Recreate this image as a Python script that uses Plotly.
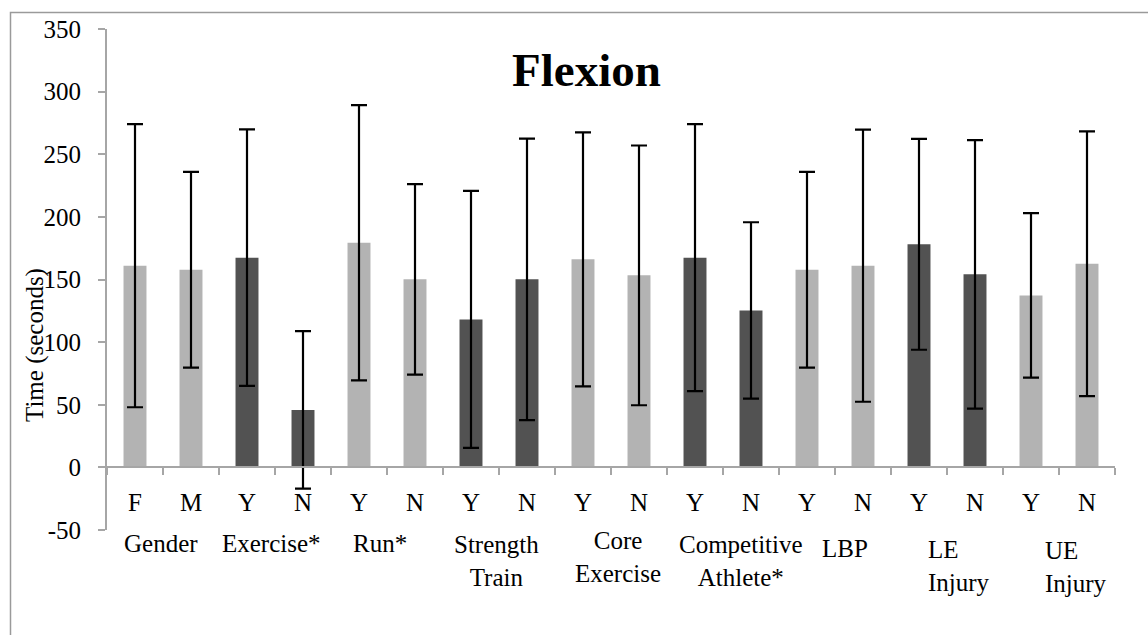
import plotly.graph_objects as go

# ---- data ----
groups = ["Gender", "Gender", "Exercise*", "Exercise*", "Run*", "Run*",
          "Strength Train", "Strength Train", "Core Exercise", "Core Exercise",
          "Competitive Athlete*", "Competitive Athlete*", "LBP", "LBP",
          "LE Injury", "LE Injury", "UE Injury", "UE Injury"]
levels = ["F", "M", "Y", "N", "Y", "N", "Y", "N", "Y", "N",
          "Y", "N", "Y", "N", "Y", "N", "Y", "N"]
means = [161.0, 157.8, 167.4, 45.9, 179.4, 150.1, 118.1, 150.1, 166.1, 153.3,
         167.4, 125.3, 157.8, 161.0, 178.1, 154.1, 137.3, 162.6]
sds = [113.0, 78.2, 102.4, 62.9, 109.9, 76.0, 102.6, 112.3, 101.4, 103.7,
       106.6, 70.4, 78.2, 108.6, 84.2, 107.2, 65.7, 105.7]
shade = ["light", "light", "dark", "dark", "light", "light", "dark", "dark",
         "light", "light", "dark", "dark", "light", "light", "dark", "dark",
         "light", "light"]
ytick_vals = [-50, 0, 50, 100, 150, 200, 250, 300, 350]
ytick_text = ["-50", "0", "50", "100", "150", "200", "250", "300", "350"]

# group labels: (text lines, index position, anchor, pixel y centre)
group_labels = [
    ("Gender", 0.47, "center", 543),
    ("Exercise*", 2.44, "center", 543),
    ("Run*", 4.38, "center", 543),
    ("Strength<br>Train", 6.46, "center", 561),
    ("Core<br>Exercise", 8.63, "center", 557),
    ("Competitive<br>Athlete*", 10.83, "center", 561),
    ("LBP", 12.68, "center", 548),
    ("LE<br>Injury", 14.13, "left", 566),
    ("UE<br>Injury", 16.22, "left", 567),
]

COLORS = {"light": "#b3b3b3", "dark": "#525252"}
FONT = "Liberation Serif, Times New Roman, serif"
AXIS_GRAY = "#a6a6a6"

W, H = 1148, 635
L, R, T, B = 107, 33, 29, 105
plot_h = H - T - B
plot_w = W - L - R


def py_to_paper(py):
    return (H - B - py) / plot_h


def px_to_paper(px):
    return (px - L) / plot_w


cats = [f"{g}|{lv}|{i}" for i, (g, lv) in enumerate(zip(groups, levels))]

fig = go.Figure()
fig.add_trace(go.Bar(
    x=cats,
    y=means,
    marker=dict(color=[COLORS[s] for s in shade], line=dict(width=0)),
    error_y=dict(type="data", array=sds, visible=True, color="black",
                 thickness=2.2, width=8),
    showlegend=False,
))

annotations = []
for text, idx, anchor, py in group_labels:
    annotations.append(dict(
        text=text, x=idx, xref="x", y=py_to_paper(py), yref="paper",
        xanchor=anchor, yanchor="middle", showarrow=False, align=anchor,
        font=dict(family=FONT, size=25, color="black"),
    ))
annotations.append(dict(
    text="<b>Flexion</b>", x=px_to_paper(586), xref="paper",
    y=py_to_paper(70), yref="paper", xanchor="center", yanchor="middle",
    showarrow=False, font=dict(family=FONT, size=47, color="black"),
))
annotations.append(dict(
    text="Time (seconds)", x=px_to_paper(35), xref="paper",
    y=py_to_paper(345), yref="paper", xanchor="center", yanchor="middle",
    textangle=-90, showarrow=False,
    font=dict(family=FONT, size=25, color="black"),
))

fig.update_layout(
    width=W, height=H,
    margin=dict(l=L, r=R, t=T, b=B, pad=0),
    paper_bgcolor="white", plot_bgcolor="white",
    bargap=0.59,
    font=dict(family=FONT, size=25, color="black"),
    xaxis=dict(
        type="category", tickvals=cats, ticktext=levels,
        tickson="boundaries", ticks="outside", ticklen=7, tickwidth=2,
        tickcolor=AXIS_GRAY, showline=True, linecolor=AXIS_GRAY, linewidth=2,
        showgrid=False, anchor="free", position=0.125,
        ticklabelstandoff=13,
        tickfont=dict(family=FONT, size=25, color="black"),
    ),
    yaxis=dict(
        range=[-50, 350], tickvals=ytick_vals, ticktext=ytick_text,
        ticks="outside", ticklen=7, tickwidth=2, tickcolor=AXIS_GRAY,
        showline=True, linecolor=AXIS_GRAY, linewidth=2, showgrid=False,
        zeroline=False, ticklabelstandoff=12,
        tickfont=dict(family=FONT, size=25, color="black"),
    ),
    annotations=annotations,
    shapes=[dict(
        type="rect", xref="paper", yref="paper",
        x0=px_to_paper(10.5), x1=px_to_paper(1160),
        y0=py_to_paper(650), y1=py_to_paper(12.5),
        line=dict(color="#9a9a9a", width=1.5), fillcolor="rgba(0,0,0,0)",
        layer="below",
    )],
)

fig.write_html("out.html")
